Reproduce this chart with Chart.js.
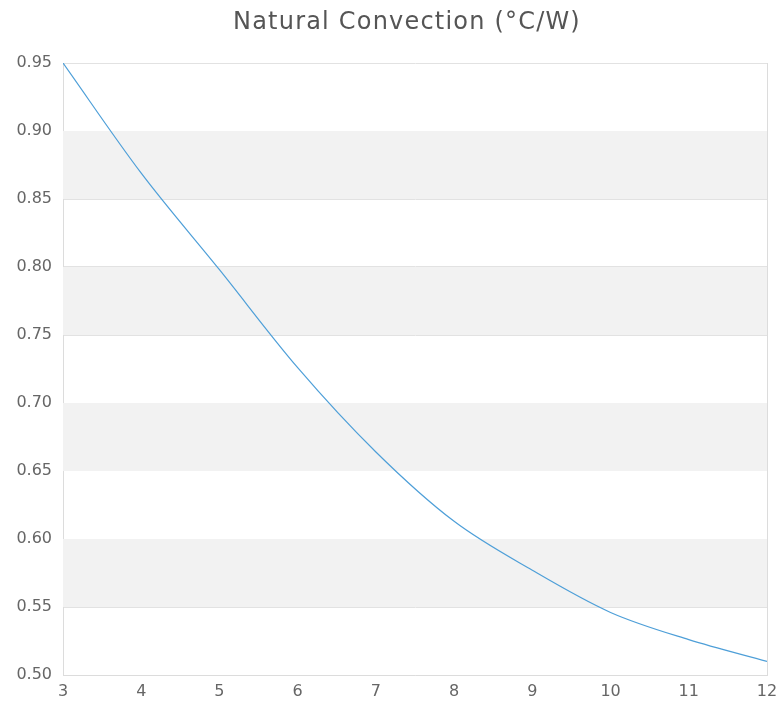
<!DOCTYPE html>
<html>
<head>
<meta charset="utf-8">
<script src="https://cdn.jsdelivr.net/npm/chart.js@4/dist/chart.umd.min.js"></script>
<style>
html,body{margin:0;padding:0;background:#fff;}
#wrap{width:779px;height:708px;}
</style>
</head>
<body>
<div id="wrap"><canvas id="c" width="779" height="708"></canvas></div>
<script>
const chartTitle = 'Natural Convection (°C/W)';
const xValues = [3, 4, 5, 6, 7, 8, 9, 10, 11, 12];
const yValues = [0.950, 0.869, 0.798, 0.726, 0.664, 0.613, 0.577, 0.546, 0.526, 0.510];
const yMin = 0.50, yMax = 0.95, yStep = 0.05;
const xMin = 3, xMax = 12;

const bandPlugin = {
  id: 'bands',
  beforeDatasetsDraw(chart) {
    const {ctx, chartArea, scales} = chart;
    const y = scales.y;
    const ticks = y.ticks;
    ctx.save();
    ctx.fillStyle = '#f2f2f2';
    for (let i = 0; i < ticks.length - 1; i++) {
      if (i % 2 === 1) {
        const top = y.getPixelForValue(ticks[i + 1].value);
        const bot = y.getPixelForValue(ticks[i].value);
        ctx.fillRect(chartArea.left, top, chartArea.right - chartArea.left, bot - top);
      }
    }
    ctx.restore();
  }
};

const titlePlugin = {
  id: 'centeredTitle',
  afterDraw(chart) {
    const {ctx, chartArea} = chart;
    ctx.save();
    ctx.font = 'normal 24px "DejaVu Sans"';
    if ('letterSpacing' in ctx) ctx.letterSpacing = '1.2px';
    ctx.fillStyle = '#555';
    ctx.textAlign = 'center';
    ctx.textBaseline = 'alphabetic';
    ctx.fillText(chartTitle, (chartArea.left + chartArea.right) / 2 - 8, 29);
    ctx.restore();
  }
};

const points = xValues.map((x, i) => ({x: x, y: yValues[i]}));

new Chart(document.getElementById('c'), {
  type: 'line',
  data: {
    datasets: [{
      data: points,
      borderColor: '#4e9fd8',
      borderWidth: 1.2,
      pointRadius: 0,
      fill: false,
      cubicInterpolationMode: 'monotone'
    }]
  },
  options: {
    responsive: false,
    animation: false,
    layout: {padding: {left: 0, right: 12, top: 63, bottom: 0}},
    plugins: {
      legend: {display: false},
      tooltip: {enabled: false},
      title: {display: false}
    },
    scales: {
      x: {
        type: 'linear',
        min: xMin, max: xMax,
        ticks: {stepSize: 1, color: '#666', font: {family: 'DejaVu Sans', size: 16}, padding: 7},
        grid: {
          drawTicks: false,
          color: (c) => (c.index === 0 || c.index === xMax - xMin) ? '#dcdcdc' : 'rgba(0,0,0,0)'
        },
        border: {display: true, color: '#dcdcdc'},
        afterFit(s) { s.height = 33; s.paddingRight = 0; s.paddingLeft = 0; }
      },
      y: {
        type: 'linear',
        min: yMin, max: yMax,
        ticks: {
          stepSize: yStep, color: '#666', font: {family: 'DejaVu Sans', size: 16}, padding: 11,
          callback: (v) => v.toFixed(2)
        },
        grid: {color: '#e2e2e2', drawTicks: false},
        border: {display: true, color: '#dcdcdc'},
        afterFit(s) { s.width = 63; }
      }
    }
  },
  plugins: [bandPlugin, titlePlugin]
});
</script>
</body>
</html>
